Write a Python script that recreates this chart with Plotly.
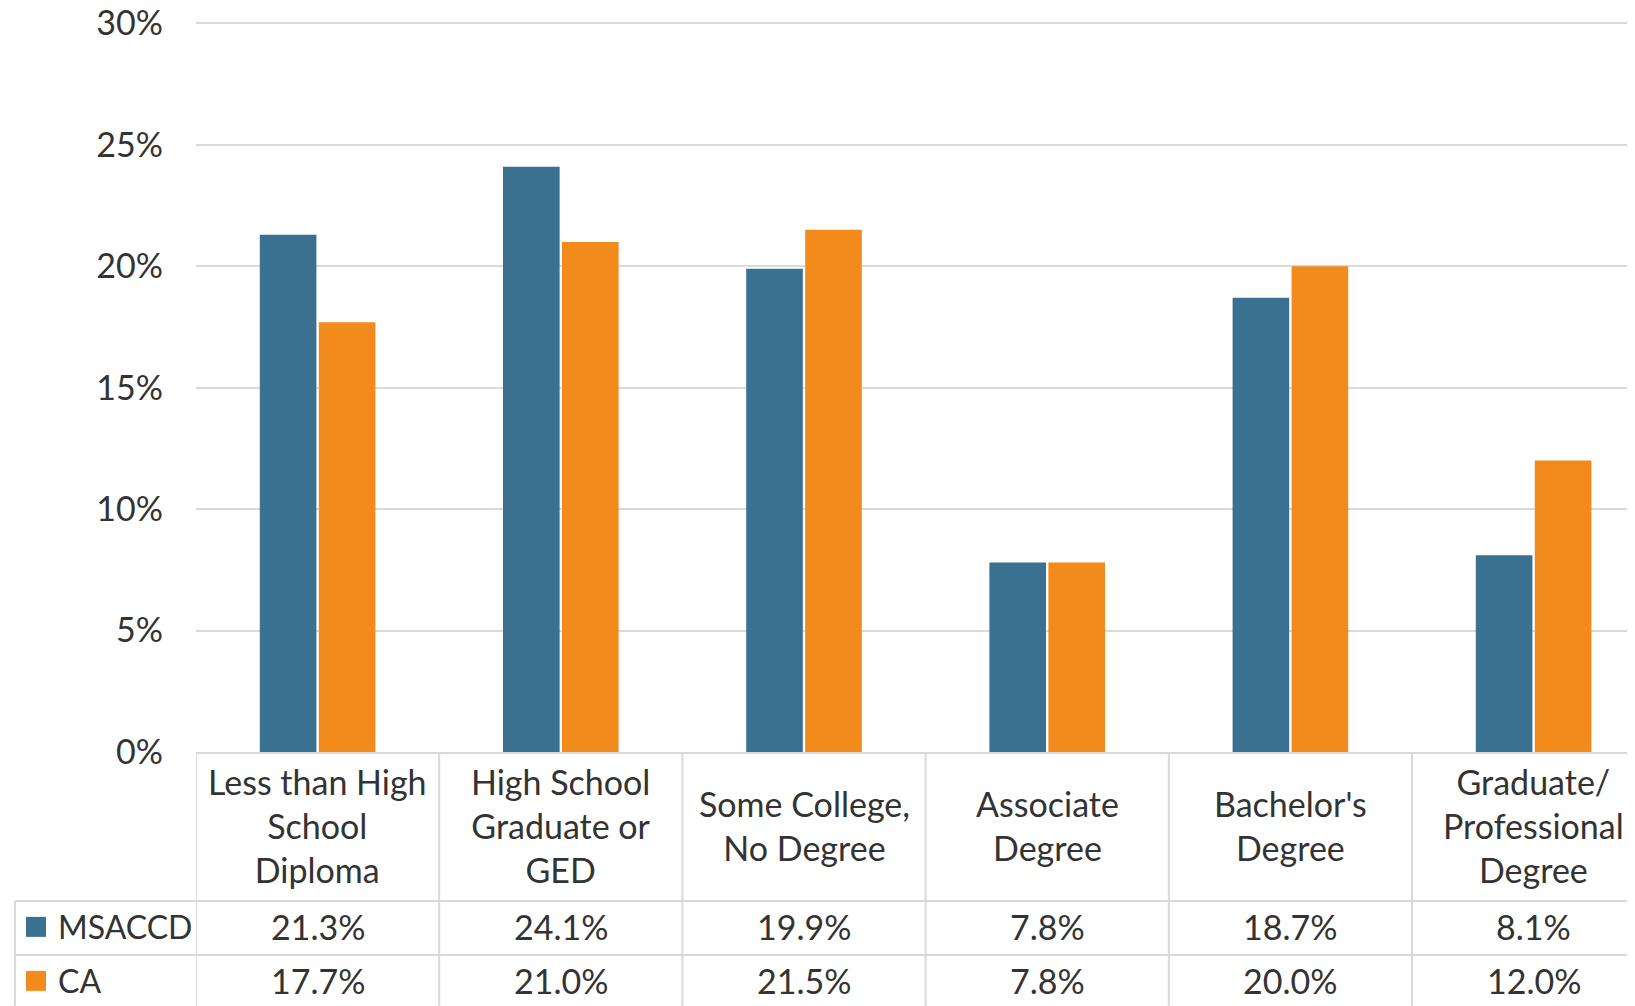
import plotly.graph_objects as go

categories = ["Less than High<br>School<br>Diploma", "High School<br>Graduate or<br>GED",
              "Some College,<br>No Degree", "Associate<br>Degree", "Bachelor's<br>Degree",
              "Graduate/<br>Professional<br>Degree"]
series_names = ["MSACCD", "CA"]
msaccd = [21.3, 24.1, 19.9, 7.8, 18.7, 8.1]
ca = [17.7, 21.0, 21.5, 7.8, 20.0, 12.0]
y_ticks = [0, 5, 10, 15, 20, 25, 30]

colors = ["#3A7191", "#F38A1C"]
OFF = 8  # page body margin
W, H = 1635 - OFF, 1006 - OFF
L = 196 - OFF
B_AX = 752 - OFF
T30 = 23 - OFF
YMAX = 30.1
T = B_AX - (B_AX - T30) * YMAX / 30
PW = W - L
PH = B_AX - T
cat_w = 243.2
FONT = "Lato"
FS = 34
TXT = "#333333"
GRID = "#D9D9D9"


def px_x(px):
    return (px - OFF - L) / PW


def px_y(py):
    return (B_AX - (py - OFF)) / PH


xs = list(range(len(categories)))
fig = go.Figure()
for name, vals, c in zip(series_names, [msaccd, ca], colors):
    fig.add_trace(go.Bar(x=xs, y=vals, name=name, marker=dict(color=c, line=dict(width=0)),
                         showlegend=False, hoverinfo="skip"))

fig.update_layout(
    width=W, height=H, barmode="group", bargap=0.515, bargroupgap=0.04,
    margin=dict(l=L, r=0, t=T, b=H - B_AX, pad=0, autoexpand=False),
    plot_bgcolor="white", paper_bgcolor="white",
    font=dict(family=FONT, size=FS, color=TXT),
)
fig.update_xaxes(range=[-0.5, -0.5 + PW / cat_w], showticklabels=False, showgrid=False,
                 zeroline=False, showline=True, linecolor=GRID, linewidth=2, ticks="",
                 automargin=False)
fig.update_yaxes(range=[0, YMAX], tickvals=y_ticks, ticktext=[f"{v}%" for v in y_ticks],
                 showgrid=True, gridcolor=GRID, gridwidth=2, zeroline=False, showline=False,
                 ticks="", ticklabelstandoff=32, ticklabeloverflow="allow", automargin=False,
                 tickfont=dict(family=FONT, size=FS, color=TXT))

shapes = []
line = dict(color=GRID, width=2)
for i in range(len(categories)):
    shapes.append(dict(type="line", xref="x", yref="paper", x0=i - 0.5, x1=i - 0.5,
                       y0=0, y1=px_y(1006), line=line, layer="above"))
for py in [901, 955]:
    shapes.append(dict(type="line", xref="paper", yref="paper", x0=px_x(15), x1=1,
                       y0=px_y(py), y1=px_y(py), line=line))
shapes.append(dict(type="line", xref="paper", yref="paper", x0=px_x(15), x1=px_x(15),
                   y0=px_y(901), y1=px_y(1006), line=line))

annotations = []
for i, cat in enumerate(categories):
    annotations.append(dict(x=i, xref="x", y=px_y(826), yref="paper", text=cat,
                            showarrow=False, xanchor="center", yanchor="middle",
                            font=dict(family=FONT, size=FS, color=TXT)))
row_centers = [927, 981]
for name, vals, c, py in zip(series_names, [msaccd, ca], colors, row_centers):
    shapes.append(dict(type="rect", xref="paper", yref="paper", x0=px_x(26), x1=px_x(46),
                       y0=px_y(py + 10), y1=px_y(py - 10), fillcolor=c, line=dict(width=0)))
    annotations.append(dict(x=px_x(56), xref="paper", y=px_y(py), yref="paper", text=name,
                            showarrow=False, xanchor="left", yanchor="middle",
                            font=dict(family=FONT, size=32, color=TXT)))
    for i, v in enumerate(vals):
        annotations.append(dict(x=i, xref="x", y=px_y(py), yref="paper", text=f"{v:.1f}%",
                                showarrow=False, xanchor="center", yanchor="middle",
                                font=dict(family=FONT, size=FS, color=TXT)))

fig.update_layout(shapes=shapes, annotations=annotations)
fig.write_html("out.html")
